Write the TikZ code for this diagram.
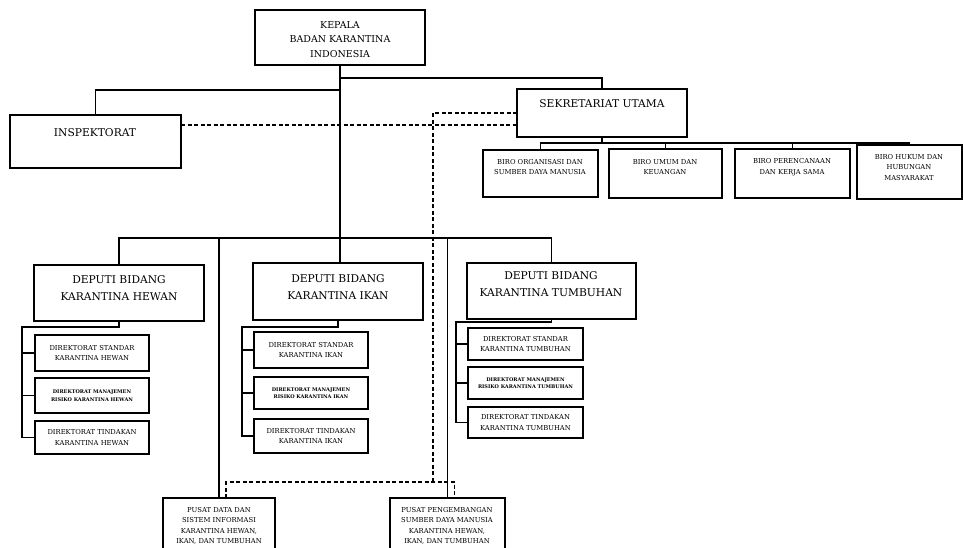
\documentclass[tikz,border=0pt]{standalone}
\usepackage{fontspec}
\setmainfont{DejaVu Serif}
\newcommand{\orgbox}[5]{\node[boxst, minimum width={(#4-#2)*1pt}, minimum height={(#5-#3)*1pt}] (#1) at ({(#2+#4)/2},{(#3+#5)/2}) {};}
\begin{document}
\begin{tikzpicture}[x=1pt,y=-1pt,
  boxst/.style={draw, rectangle, line width=1.4pt, inner sep=0pt, outer sep=0pt},
  lbl/.style={align=center, inner sep=0pt},
  big/.style={lbl, font={\fontsize{10.7}{17}\selectfont}},
  kepf/.style={lbl, font={\fontsize{9.5}{14.5}\selectfont}},
  small/.style={lbl, font={\fontsize{6.8}{10.6}\selectfont}},
  tiny/.style={lbl, font={\bfseries\fontsize{5}{7.5}\selectfont}},
  ln/.style={line width=1.3pt},
  dsh/.style={line width=1.3pt, dash pattern=on 4pt off 2.5pt},
]
\useasboundingbox (0,0) rectangle (964,548);
\clip (0,0) rectangle (964,548);

% boxes
\orgbox{kep}{255}{10}{425}{65}
\orgbox{insp}{10}{115}{181}{168}
\orgbox{sek}{517}{89}{687}{137}
\orgbox{b1}{483}{150}{598}{197}
\orgbox{b2}{609}{149}{722}{198}
\orgbox{b3}{735}{149}{850}{198}
\orgbox{b4}{857}{145}{962}{199}
\orgbox{hew}{34}{265}{204}{321}
\orgbox{ikn}{253}{263}{423}{320}
\orgbox{tum}{467}{263}{636}{319}
\orgbox{h1}{35}{335}{149}{371}
\orgbox{h2}{35}{378}{149}{413}
\orgbox{h3}{35}{421}{149}{454}
\orgbox{k1}{254}{332}{368}{368}
\orgbox{k2}{254}{377}{368}{409}
\orgbox{k3}{254}{419}{368}{453}
\orgbox{t1}{468}{328}{583}{360}
\orgbox{t2}{468}{367}{583}{399}
\orgbox{t3}{468}{407}{583}{438}
\orgbox{pd}{163}{498}{275}{570}
\orgbox{pp}{390}{498}{505}{570}

% texts
\node[kepf] (kep-t) at (340,39.5) {KEPALA\\BADAN KARANTINA\\INDONESIA};
\node[big] (insp-t) at (95,133) {INSPEKTORAT};
\node[big] (sek-t) at (602,104) {SEKRETARIAT UTAMA};
\node[small] (b1-t) at (540,167) {BIRO ORGANISASI DAN\\SUMBER DAYA MANUSIA};
\node[small] (b2-t) at (665,167) {BIRO UMUM DAN\\KEUANGAN};
\node[small] (b3-t) at (792,167) {BIRO PERENCANAAN\\DAN KERJA SAMA};
\node[small] (b4-t) at (909,167.5) {BIRO HUKUM DAN\\HUBUNGAN\\MASYARAKAT};
\node[big] (hew-t) at (119,288) {DEPUTI BIDANG\\KARANTINA HEWAN};
\node[big] (ikn-t) at (338,287) {DEPUTI BIDANG\\KARANTINA IKAN};
\node[big] (tum-t) at (551,284) {DEPUTI BIDANG\\KARANTINA TUMBUHAN};
\node[small] (h1-t) at (h1) {DIREKTORAT STANDAR\\KARANTINA HEWAN};
\node[tiny] (h2-t) at (h2) {DIREKTORAT MANAJEMEN\\RISIKO KARANTINA HEWAN};
\node[small] (h3-t) at (h3) {DIREKTORAT TINDAKAN\\KARANTINA HEWAN};
\node[small] (k1-t) at (k1) {DIREKTORAT STANDAR\\KARANTINA IKAN};
\node[tiny] (k2-t) at (k2) {DIREKTORAT MANAJEMEN\\RISIKO KARANTINA IKAN};
\node[small] (k3-t) at (k3) {DIREKTORAT TINDAKAN\\KARANTINA IKAN};
\node[small] (t1-t) at (t1) {DIREKTORAT STANDAR\\KARANTINA TUMBUHAN};
\node[tiny] (t2-t) at (t2) {DIREKTORAT MANAJEMEN\\RISIKO KARANTINA TUMBUHAN};
\node[small] (t3-t) at (t3) {DIREKTORAT TINDAKAN\\KARANTINA TUMBUHAN};
\node[small] (pd-t) at (219,526) {PUSAT DATA DAN\\SISTEM INFORMASI\\KARANTINA HEWAN,\\IKAN, DAN TUMBUHAN};
\node[small] (pp-t) at (447,526) {PUSAT PENGEMBANGAN\\SUMBER DAYA MANUSIA\\KARANTINA HEWAN,\\IKAN, DAN TUMBUHAN};

% junction coordinates
\coordinate (jr) at (0,78);
\coordinate (jl) at (0,90);
\coordinate (dl) at (0,125);
\coordinate (du) at (0,113);
\coordinate (dh) at (433,482);
\coordinate (bb) at (0,143);
\coordinate (db) at (0,238);
\coordinate (hb) at (22,327);
\coordinate (kb) at (242,327);
\coordinate (tb) at (456,322);

% solid connectors
\draw[ln] (kep.south) -- (kep.south |- ikn.north);
\draw[ln] (kep.south |- jr) -| (sek.north);
\draw[ln] (kep.south |- jl) -| (insp.north);
\draw[ln] (sek.south) -- (sek.south |- bb);
\draw[ln] (b1.north) |- (b4.north |- bb) -- (b4.north);
\draw[ln] (b2.north) -- (b2.north |- bb);
\draw[ln] (b3.north) -- (b3.north |- bb);
\draw[ln] (hew.north) |- (tum.north |- db) -- (tum.north);
\draw[ln] (pd.north) -- (pd.north |- db);
\draw[ln] (pp.north) -- (pp.north |- db);
\draw[ln] (hew.south) |- (hb) |- (h3.west);
\draw[ln] (hb |- h1.west) -- (h1.west);
\draw[ln] (hb |- h2.west) -- (h2.west);
\draw[ln] (ikn.south) |- (kb) |- (k3.west);
\draw[ln] (kb |- k1.west) -- (k1.west);
\draw[ln] (kb |- k2.west) -- (k2.west);
\draw[ln] (tum.south) |- (tb) |- (t3.west);
\draw[ln] (tb |- t1.west) -- (t1.west);
\draw[ln] (tb |- t2.west) -- (t2.west);

% dashed connectors
\draw[dsh] (insp.east |- dl) -- (sek.west |- dl);
\draw[dsh] (sek.west |- du) -| (dh);
\draw[dsh] ([xshift=7pt]pd.north) |- ([xshift=7pt]pp.north |- dh) -- ([xshift=7pt]pp.north);
\end{tikzpicture}
\end{document}
